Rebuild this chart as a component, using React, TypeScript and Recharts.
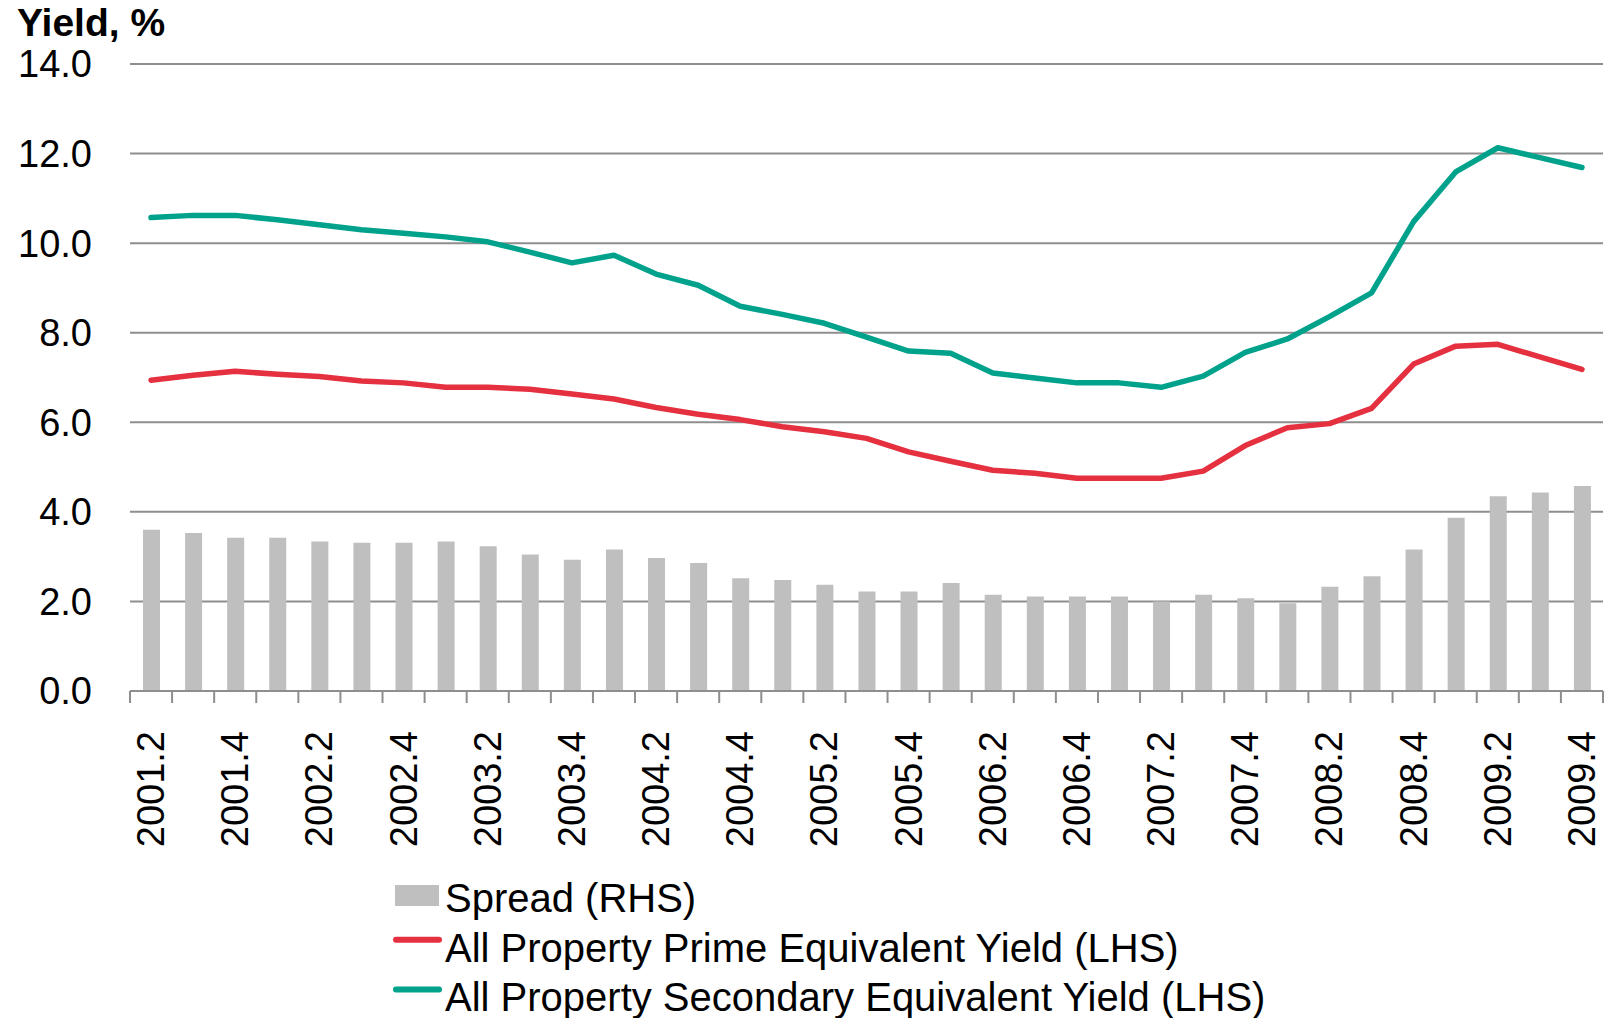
import React from "react";
import { ComposedChart, Bar, Line, XAxis, YAxis, CartesianGrid } from "recharts";

const quarters = [
  "2001.2", "2001.3", "2001.4",
  "2002.1", "2002.2", "2002.3", "2002.4",
  "2003.1", "2003.2", "2003.3", "2003.4",
  "2004.1", "2004.2", "2004.3", "2004.4",
  "2005.1", "2005.2", "2005.3", "2005.4",
  "2006.1", "2006.2", "2006.3", "2006.4",
  "2007.1", "2007.2", "2007.3", "2007.4",
  "2008.1", "2008.2", "2008.3", "2008.4",
  "2009.1", "2009.2", "2009.3", "2009.4",
];

const spread = [
  3.6, 3.53, 3.42, 3.42, 3.34, 3.31, 3.31, 3.34, 3.23, 3.05, 2.93, 3.16,
  2.97, 2.86, 2.52, 2.48, 2.37, 2.22, 2.22, 2.41, 2.15, 2.11, 2.11, 2.11,
  2.0, 2.15, 2.07, 1.96, 2.33, 2.56, 3.16, 3.87, 4.35, 4.43, 4.58,
];

const prime = [
  6.94, 7.05, 7.14, 7.07, 7.02, 6.92, 6.88, 6.78, 6.78, 6.74, 6.63, 6.52,
  6.33, 6.18, 6.06, 5.9, 5.79, 5.64, 5.34, 5.13, 4.93, 4.86, 4.75, 4.75,
  4.75, 4.91, 5.48, 5.88, 5.97, 6.31, 7.3, 7.7, 7.74, 7.46, 7.18,
];

const secondary = [
  10.57, 10.62, 10.62, 10.52, 10.41, 10.3, 10.22, 10.14, 10.03, 9.8, 9.56, 9.73,
  9.31, 9.06, 8.59, 8.41, 8.21, 7.9, 7.59, 7.54, 7.1, 6.99, 6.88, 6.88,
  6.78, 7.03, 7.56, 7.86, 8.36, 8.89, 10.48, 11.59, 12.13, 11.91, 11.69,
];

const yTicks = [0, 2, 4, 6, 8, 10, 12, 14];

const seriesNames = {
  spread: "Spread (RHS)",
  prime: "All Property Prime Equivalent Yield (LHS)",
  secondary: "All Property Secondary Equivalent Yield (LHS)",
};

const COLORS = {
  spread: "#bfbfbf",
  prime: "#e4303f",
  secondary: "#00a28c",
  grid: "#8e8e8e",
};

const FONT = "'Liberation Sans', Arial, Helvetica, sans-serif";

const data = quarters.map((q, i) => ({
  q,
  spread: spread[i],
  prime: prime[i],
  secondary: secondary[i],
}));

const CHART_W = 1610;
const CHART_H = 1018;
const MARGIN = { top: 64, right: 7, bottom: 147, left: 0 };
const Y_W = 130;
const X_H = 180;

const XTick = (props: any) => {
  const { x, y, payload } = props;
  const i: number = payload?.index ?? props.index ?? 0;
  const fallbackHalf = (CHART_W - MARGIN.left - MARGIN.right - Y_W) / quarters.length / 2;
  const half: number = payload?.offset ? payload.offset : fallbackHalf;
  const ly = y + 40;
  return (
    <g>
      <line x1={x - half} x2={x - half} y1={y} y2={y + 12} stroke={COLORS.grid} strokeWidth={2} />
      {i === quarters.length - 1 && (
        <line x1={x + half} x2={x + half} y1={y} y2={y + 12} stroke={COLORS.grid} strokeWidth={2} />
      )}
      {i % 2 === 0 && (
        <text
          x={x}
          y={ly}
          transform={`rotate(-90, ${x}, ${ly})`}
          textAnchor="end"
          dominantBaseline="central"
          fontSize={38}
          fontFamily={FONT}
          fill="#000"
        >
          {payload.value}
        </text>
      )}
    </g>
  );
};

const legendItems = [
  { key: "spread", type: "rect" },
  { key: "prime", type: "line" },
  { key: "secondary", type: "line" },
] as const;

const Legend = () => (
  <svg
    width={CHART_W}
    height={180}
    style={{ position: "absolute", left: 0, top: 840, overflow: "visible" }}
  >
    {legendItems.map((it, k) => {
      const base = 72 + k * 49.7;
      const cy = base - 14;
      const color = (COLORS as any)[it.key];
      return (
        <g key={it.key}>
          {it.type === "rect" ? (
            <rect x={395} y={cy - 13} width={44} height={21} fill={color} />
          ) : (
            <line x1={396} x2={439} y1={cy - 8} y2={cy - 8} stroke={color} strokeWidth={6} strokeLinecap="round" />
          )}
          <text x={445} y={base} fontSize={40} fontFamily={FONT} fill="#000">
            {(seriesNames as any)[it.key]}
          </text>
        </g>
      );
    })}
  </svg>
);

export default function App() {
  return (
    <div style={{ position: "absolute", left: 0, top: 0, width: CHART_W, height: CHART_H, background: "#fff" }}>
      <div
        style={{
          position: "absolute",
          left: 17,
          top: 3,
          fontFamily: FONT,
          fontWeight: "bold",
          fontSize: 39,
          lineHeight: "39px",
          color: "#000",
          whiteSpace: "nowrap",
        }}
      >
        Yield, %
      </div>
      <ComposedChart width={CHART_W} height={CHART_H} data={data} margin={MARGIN}>
        <CartesianGrid yAxisId="left" vertical={false} stroke={COLORS.grid} strokeWidth={2} />
        <XAxis
          dataKey="q"
          interval={0}
          height={X_H}
          tickSize={0}
          tickMargin={0}
          tickLine={false}
          axisLine={{ stroke: COLORS.grid, strokeWidth: 2 }}
          tick={<XTick />}
        />
        <YAxis
          yAxisId="left"
          domain={[0, 14]}
          ticks={yTicks}
          width={Y_W}
          axisLine={false}
          tickLine={false}
          tickSize={0}
          tickMargin={38}
          tickFormatter={(v: number) => v.toFixed(1)}
          tick={{ fontSize: 38, fontFamily: FONT, fill: "#000" }}
        />
        <YAxis yAxisId="right" orientation="right" domain={[0, 14]} ticks={yTicks} hide />
        <Bar
          yAxisId="right"
          dataKey="spread"
          name={seriesNames.spread}
          fill={COLORS.spread}
          barSize={17}
          isAnimationActive={false}
        />
        <Line
          yAxisId="left"
          type="linear"
          dataKey="prime"
          name={seriesNames.prime}
          stroke={COLORS.prime}
          strokeWidth={5.5}
          strokeLinecap="round"
          strokeLinejoin="round"
          dot={false}
          activeDot={false}
          isAnimationActive={false}
        />
        <Line
          yAxisId="left"
          type="linear"
          dataKey="secondary"
          name={seriesNames.secondary}
          stroke={COLORS.secondary}
          strokeWidth={5.5}
          strokeLinecap="round"
          strokeLinejoin="round"
          dot={false}
          activeDot={false}
          isAnimationActive={false}
        />
      </ComposedChart>
      <Legend />
    </div>
  );
}
